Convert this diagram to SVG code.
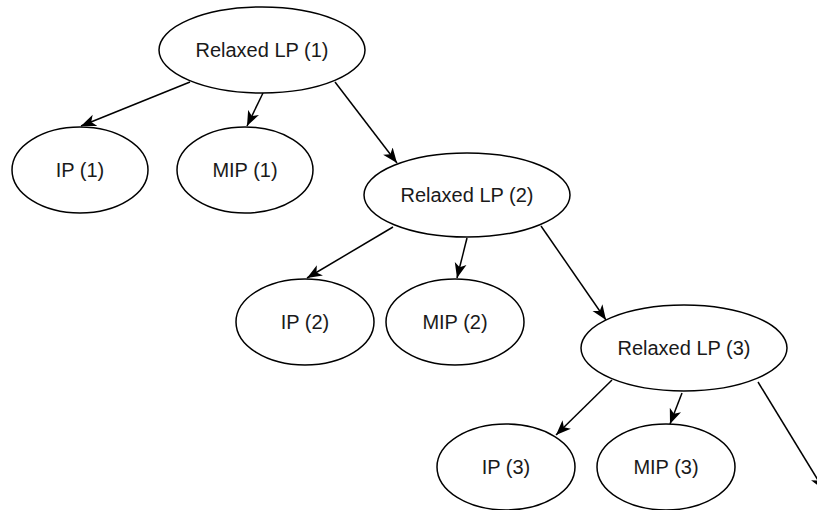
<svg xmlns="http://www.w3.org/2000/svg" width="817" height="510" viewBox="0 0 817 510">
<style>
  .node ellipse { fill: #ffffff; stroke: #000000; stroke-width: 1.5; }
  .node text { font-family: "Liberation Sans", Arial, Helvetica, sans-serif; font-size: 20px; fill: #1a1a1a; text-anchor: middle; dominant-baseline: central; }
  .edges line { stroke: #000000; stroke-width: 1.5; marker-end: url(#arrow); }
</style>
<defs>
  <marker id="arrow" markerUnits="userSpaceOnUse" markerWidth="16" markerHeight="13" refX="15" refY="6" orient="auto" viewBox="0 0 16 12">
    <path d="M15,6 L0,0 L4,6 L0,12 Z" fill="#000000"/>
  </marker>
</defs>
<rect width="817" height="510" fill="#ffffff"/>
<g class="edges" id="connectors">
  <line x1="190" y1="82" x2="81" y2="126"/>
  <line x1="263" y1="93" x2="247" y2="126"/>
  <line x1="335" y1="82" x2="397" y2="163"/>
  <line x1="393" y1="227" x2="307" y2="278"/>
  <line x1="467" y1="238" x2="457" y2="278"/>
  <line x1="541" y1="226" x2="606" y2="320"/>
  <line x1="612" y1="380" x2="556" y2="435"/>
  <line x1="682" y1="393" x2="670" y2="424"/>
  <line x1="758" y1="382" x2="824" y2="490"/>
</g>
<g class="node" id="lp1"><ellipse cx="262" cy="50" rx="103" ry="43"/><text x="262" y="50">Relaxed LP (1)</text></g>
<g class="node" id="ip1"><ellipse cx="80" cy="170" rx="68" ry="43"/><text x="80" y="170">IP (1)</text></g>
<g class="node" id="mip1"><ellipse cx="245" cy="170" rx="68" ry="43"/><text x="245" y="170">MIP (1)</text></g>
<g class="node" id="lp2"><ellipse cx="467" cy="195" rx="103" ry="42"/><text x="467" y="195">Relaxed LP (2)</text></g>
<g class="node" id="ip2"><ellipse cx="305" cy="322" rx="69" ry="43"/><text x="305" y="322">IP (2)</text></g>
<g class="node" id="mip2"><ellipse cx="455" cy="322" rx="69" ry="43"/><text x="455" y="322">MIP (2)</text></g>
<g class="node" id="lp3"><ellipse cx="684" cy="348" rx="103" ry="43"/><text x="684" y="348">Relaxed LP (3)</text></g>
<g class="node" id="ip3"><ellipse cx="506" cy="467" rx="69" ry="43"/><text x="506" y="467">IP (3)</text></g>
<g class="node" id="mip3"><ellipse cx="666" cy="467" rx="69" ry="43"/><text x="666" y="467">MIP (3)</text></g>
</svg>
